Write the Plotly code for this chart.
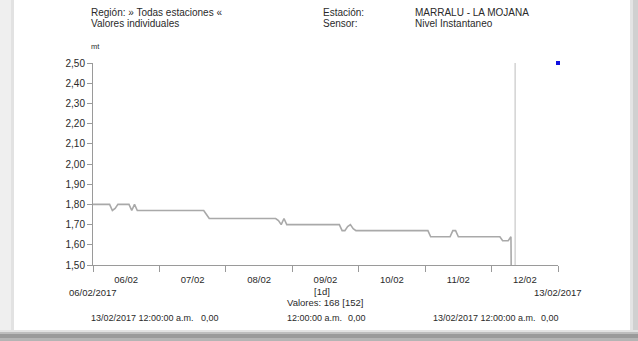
import pandas as pd
import plotly.graph_objects as go

# ---------------- data ----------------
start_time = "2017-02-06 00:00"
end_time = "2017-02-13 00:00"
cursor_time = "2017-02-12 08:30"

# hourly instantaneous level (m), 06/02 00:00 onwards
level = [
    1.80, 1.80, 1.80, 1.80, 1.80, 1.80, 1.80, 1.77, 1.78, 1.80, 1.80, 1.80,
    1.80, 1.80, 1.77, 1.80, 1.77, 1.77, 1.77, 1.77, 1.77, 1.77, 1.77, 1.77,
    1.77, 1.77, 1.77, 1.77, 1.77, 1.77, 1.77, 1.77, 1.77, 1.77, 1.77, 1.77,
    1.77, 1.77, 1.77, 1.77, 1.77, 1.75, 1.73, 1.73, 1.73, 1.73, 1.73, 1.73,
    1.73, 1.73, 1.73, 1.73, 1.73, 1.73, 1.73, 1.73, 1.73, 1.73, 1.73, 1.73,
    1.73, 1.73, 1.73, 1.73, 1.73, 1.73, 1.73, 1.72, 1.70, 1.73, 1.70, 1.70,
    1.70, 1.70, 1.70, 1.70, 1.70, 1.70, 1.70, 1.70, 1.70, 1.70, 1.70, 1.70,
    1.70, 1.70, 1.70, 1.70, 1.70, 1.70, 1.67, 1.67, 1.69, 1.70, 1.68, 1.67,
    1.67, 1.67, 1.67, 1.67, 1.67, 1.67, 1.67, 1.67, 1.67, 1.67, 1.67, 1.67,
    1.67, 1.67, 1.67, 1.67, 1.67, 1.67, 1.67, 1.67, 1.67, 1.67, 1.67, 1.67,
    1.67, 1.67, 1.64, 1.64, 1.64, 1.64, 1.64, 1.64, 1.64, 1.64, 1.67, 1.67,
    1.64, 1.64, 1.64, 1.64, 1.64, 1.64, 1.64, 1.64, 1.64, 1.64, 1.64, 1.64,
    1.64, 1.64, 1.64, 1.64, 1.62, 1.62, 1.62, 1.64,
]
after_end = [0.00]

y_ticks = [1.50, 1.60, 1.70, 1.80, 1.90, 2.00, 2.10, 2.20, 2.30, 2.40, 2.50]
y_tick_labels = ["1,50", "1,60", "1,70", "1,80", "1,90", "2,00",
                 "2,10", "2,20", "2,30", "2,40", "2,50"]
y_min, y_max = 1.50, 2.50
marker_point_x = ["2017-02-13 00:00"]
marker_point_y = [2.50]

# ---------------- figure ----------------
W, H = 638, 341
L, R, T, B = 93, 558, 63, 265      # plot area in px


def px(x):
    return (x - L) / (R - L)


def py(y):
    return (B - y) / (B - T)


times = pd.date_range(start_time, periods=len(level) + len(after_end), freq="h")
values = level + after_end

FONT = "Liberation Sans, Arial, sans-serif"
LINE_GRAY = "#a9a9a9"
AXIS_GRAY = "#9a9a9a"
TXT = "#2a2a2a"

fig = go.Figure()

fig.add_trace(go.Scatter(
    x=times, y=values, mode="lines",
    line=dict(color=LINE_GRAY, width=1.6), hoverinfo="skip", showlegend=False,
))
fig.add_trace(go.Scatter(
    x=[cursor_time, cursor_time], y=[y_min, y_max], mode="lines",
    line=dict(color="#bdbdbd", width=1), hoverinfo="skip", showlegend=False,
))
fig.add_trace(go.Scatter(
    x=marker_point_x, y=marker_point_y, mode="markers", cliponaxis=False,
    marker=dict(color="#1010e0", size=4, symbol="square"),
    hoverinfo="skip", showlegend=False,
))

fig.update_layout(
    width=W, height=H,
    margin=dict(l=L, r=W - R, t=T, b=H - B),
    paper_bgcolor="white", plot_bgcolor="white",
    font=dict(family=FONT, size=10, color=TXT),
    xaxis=dict(
        range=[start_time, end_time], type="date",
        dtick=86400000, tick0=start_time, tickformat="%d/%m",
        ticklabelmode="period",
        showgrid=False, zeroline=False, showline=True,
        linecolor=AXIS_GRAY, linewidth=1,
        ticks="outside", ticklen=6, tickcolor=AXIS_GRAY,
        tickfont=dict(family=FONT, size=9.5, color=TXT),
    ),
    yaxis=dict(
        range=[y_min, y_max], tickvals=y_ticks, ticktext=y_tick_labels,
        showgrid=False, zeroline=False, showline=True,
        linecolor=AXIS_GRAY, linewidth=1,
        ticks="outside", ticklen=5, tickcolor=AXIS_GRAY,
        tickfont=dict(family=FONT, size=10, color=TXT),
    ),
)

# page shadow frame
shapes = [
    dict(x0=px(0), x1=px(11), y0=py(0), y1=py(341), fillcolor="#efefef"),
    dict(x0=px(11), x1=px(14), y0=py(0), y1=py(341), fillcolor="#e2e2e2"),
    dict(x0=px(630), x1=px(633), y0=py(0), y1=py(341), fillcolor="#e4e4e4"),
    dict(x0=px(633), x1=px(638), y0=py(0), y1=py(341), fillcolor="#d0d0d0"),
    dict(x0=px(0), x1=px(638), y0=py(330), y1=py(332), fillcolor="#e2e2e2"),
    dict(x0=px(0), x1=px(638), y0=py(332), y1=py(334), fillcolor="#bdbdbd"),
    dict(x0=px(0), x1=px(638), y0=py(334), y1=py(338), fillcolor="#9a9a9a"),
    dict(x0=px(0), x1=px(638), y0=py(338), y1=py(341), fillcolor="#b4b4b4"),
]
for s in shapes:
    fig.add_shape(type="rect", xref="paper", yref="paper", line_width=0,
                  layer="below", **s)


def note(text, x, y, xanchor="left", size=10, xref="paper"):
    fig.add_annotation(text=text, x=x, y=py(y), xref=xref, yref="paper",
                       xanchor=xanchor, yanchor="middle", showarrow=False,
                       font=dict(family=FONT, size=size, color=TXT))


note("Región: » Todas estaciones «", px(89), 12, size=10)
note("Valores individuales", px(89), 23, size=10)
note("Estación:", px(321), 12, size=10)
note("Sensor:", px(321), 23, size=10)
note("MARRALU - LA MOJANA", px(413), 12, size=10)
note("Nivel Instantaneo", px(413), 23, size=10)
note("mt", px(89), 47, size=7.5)

note("06/02/2017", start_time, 292, xanchor="center", xref="x", size=9.5)
note("13/02/2017", end_time, 292, xanchor="center", xref="x", size=9.5)
note("[1d]", px(322), 291, xanchor="center", size=9.5)
note("Valores: 168 [152]", px(325), 302, xanchor="center", size=9.5)
note("13/02/2017 12:00:00 a.m.", px(89), 318, size=9)
note("0,00", px(199), 318, size=9)
note("12:00:00 a.m.", px(285), 318, size=9)
note("0,00", px(346), 318, size=9)
note("13/02/2017 12:00:00 a.m.", px(431), 318, size=9)
note("0,00", px(539), 318, size=9)

fig.write_html("out.html", config={"displayModeBar": False},
               post_script="document.body.style.margin='0';")
